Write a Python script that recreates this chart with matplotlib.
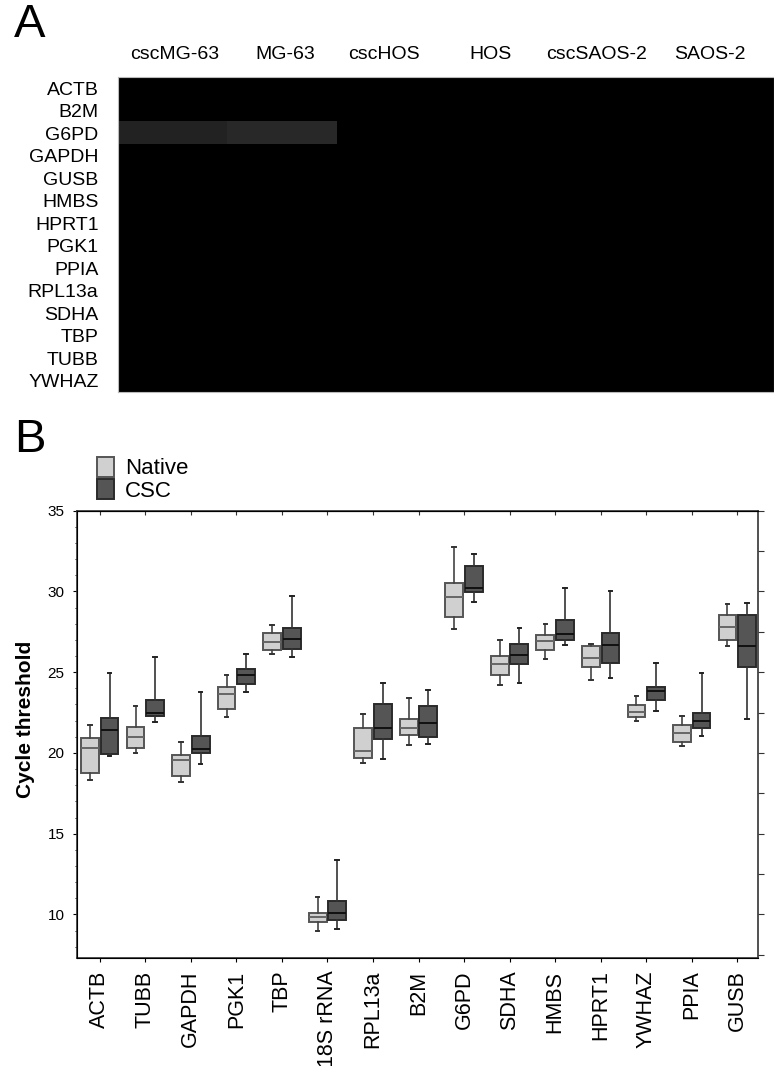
import numpy as np
import matplotlib
matplotlib.use('Agg')
import matplotlib.pyplot as plt
from matplotlib.patches import Patch
from matplotlib.ticker import MultipleLocator

plt.rcParams['font.family'] = ['Liberation Sans', 'DejaVu Sans']

# panel A: heatmap
cell_lines = ['cscMG-63', 'MG-63', 'cscHOS', 'HOS', 'cscSAOS-2', 'SAOS-2']
heat_genes = ['ACTB', 'B2M', 'G6PD', 'GAPDH', 'GUSB', 'HMBS', 'HPRT1', 'PGK1',
              'PPIA', 'RPL13a', 'SDHA', 'TBP', 'TUBB', 'YWHAZ']
heat_values = np.zeros((len(heat_genes), len(cell_lines)))
g6pd_values = [0.135, 0.16, 0, 0, 0, 0]
heat_values[heat_genes.index('G6PD')] = g6pd_values

# panel B: box plots
genes = ['ACTB', 'TUBB', 'GAPDH', 'PGK1', 'TBP', '18S rRNA', 'RPL13a', 'B2M',
         'G6PD', 'SDHA', 'HMBS', 'HPRT1', 'YWHAZ', 'PPIA', 'GUSB']
native_lo = [18.3, 20.0, 18.2, 22.2, 26.1, 8.95, 19.4, 20.5, 27.7, 24.2, 25.8, 24.5, 22.0, 20.4, 26.65]
native_q1 = [18.75, 20.3, 18.6, 22.7, 26.4, 9.5, 19.7, 21.1, 28.4, 24.85, 26.35, 25.3, 22.2, 20.7, 27.0]
native_med = [20.3, 21.0, 19.55, 23.65, 26.85, 9.85, 20.15, 21.55, 29.65, 25.5, 26.95, 25.85, 22.55, 21.25, 27.8]
native_q3 = [20.9, 21.6, 19.9, 24.1, 27.4, 10.1, 21.55, 22.1, 30.5, 26.0, 27.3, 26.6, 22.95, 21.75, 28.55]
native_hi = [21.7, 22.9, 20.65, 24.8, 27.9, 11.05, 22.4, 23.4, 32.75, 27.0, 28.0, 26.75, 23.5, 22.3, 29.2]

csc_lo = [19.8, 21.9, 19.3, 23.8, 25.95, 9.1, 19.6, 20.55, 29.35, 24.35, 26.7, 24.65, 22.6, 21.05, 22.1]
csc_q1 = [19.95, 22.3, 20.0, 24.3, 26.45, 9.65, 20.85, 21.0, 29.95, 25.5, 27.0, 25.55, 23.3, 21.55, 25.35]
csc_med = [21.45, 22.45, 20.25, 24.8, 27.05, 10.1, 21.55, 21.85, 30.2, 26.05, 27.35, 26.7, 23.85, 22.0, 26.65]
csc_q3 = [22.15, 23.25, 21.05, 25.2, 27.75, 10.85, 23.05, 22.9, 31.55, 26.75, 28.25, 27.45, 24.1, 22.5, 28.55]
csc_hi = [24.95, 25.95, 23.75, 26.1, 29.7, 13.35, 24.35, 23.9, 32.3, 27.75, 30.2, 30.05, 25.55, 24.95, 29.3]


def make_stats(lo, q1, med, q3, hi):
    return [dict(whislo=a, q1=b, med=c, q3=d, whishi=e, fliers=[])
            for a, b, c, d, e in zip(lo, q1, med, q3, hi)]


fig = plt.figure(figsize=(7.74, 10.66), dpi=100)

# ---- A ----
axA = fig.add_axes([0.1525, 0.6323, 0.8475, 0.2955])
axA.imshow(heat_values, cmap='gray', vmin=0, vmax=1, aspect='auto', interpolation='nearest')
# column labels sit a little left of the cell centres in the original
axA.set_xticks([0.02, 1.03, 1.93, 2.91, 3.88, 4.91])
axA.set_xticklabels(cell_lines, fontsize=14)
axA.xaxis.tick_top()
axA.set_yticks(range(len(heat_genes)))
axA.set_yticklabels(heat_genes, fontsize=14)
axA.tick_params(axis='y', length=0, pad=14)
axA.tick_params(axis='x', length=0, pad=10)
for s in axA.spines.values():
    s.set_color('#bbbbbb')
    s.set_linewidth(0.8)
fig.text(0.018, 0.997, 'A', fontsize=34, va='top', ha='left')

# ---- B ----
axB = fig.add_axes([0.0995, 0.1013, 0.8795, 0.4196])
pos = np.arange(len(genes))
off = 0.215
w = 0.39
axB.bxp(make_stats(native_lo, native_q1, native_med, native_q3, native_hi),
        positions=pos - off, widths=w, patch_artist=True, showfliers=False,
        boxprops=dict(facecolor='#d0d0d0', edgecolor='#555555', linewidth=1.4),
        medianprops=dict(color='#666666', linewidth=1.4),
        whiskerprops=dict(color='#444444', linewidth=1.2),
        capprops=dict(color='#333333', linewidth=1.4), capwidths=0.08)
axB.bxp(make_stats(csc_lo, csc_q1, csc_med, csc_q3, csc_hi),
        positions=pos + off, widths=w, patch_artist=True, showfliers=False,
        boxprops=dict(facecolor='#555555', edgecolor='#2a2a2a', linewidth=1.4),
        medianprops=dict(color='#111111', linewidth=1.4),
        whiskerprops=dict(color='#333333', linewidth=1.2),
        capprops=dict(color='#222222', linewidth=1.4), capwidths=0.08)

axB.set_xlim(-0.5, 14.45)
axB.set_ylim(7.3, 35)
axB.set_xticks(pos)
axB.set_xticklabels(genes, rotation=90, fontsize=15.5)
axB.set_yticks([10, 15, 20, 25, 30, 35])
axB.yaxis.set_minor_locator(MultipleLocator(1))
axB.tick_params(axis='y', which='major', direction='out', length=3, labelsize=11, pad=6)
axB.tick_params(axis='y', which='minor', direction='out', length=1.5)
axB.tick_params(axis='x', direction='out', length=3, pad=6)
axB.set_ylabel('Cycle threshold', fontsize=15, fontweight='bold')
axB.yaxis.set_label_coords(-0.062, 0.534)
for s in axB.spines.values():
    s.set_color('#333333')
    s.set_linewidth(1.2)

# top ticks (inward) at every gene
top = axB.secondary_xaxis('top')
top.set_xticks(pos)
top.tick_params(direction='in', length=3, labeltop=False, color='#333333')

# right-side ticks every 2.5 units
axR = axB.twinx()
axR.set_ylim(axB.get_ylim())
axR.yaxis.set_major_locator(MultipleLocator(2.5))
axR.tick_params(axis='y', direction='out', length=4, labelright=False, color='#333333')
axR.spines['right'].set_visible(False)

handles = [Patch(facecolor='#d0d0d0', edgecolor='#555555', linewidth=1.4),
           Patch(facecolor='#555555', edgecolor='#2a2a2a', linewidth=1.4)]
fig.legend(handles, ['Native', 'CSC'], loc='upper left', bbox_to_anchor=(0.108, 0.584),
           frameon=False, fontsize=16, handlelength=0.75, handleheight=1.0,
           handletextpad=0.5, labelspacing=0.0, borderpad=0.1)
fig.text(0.018, 0.608, 'B', fontsize=34, va='top', ha='left')

fig.savefig('out.png', dpi=100)
